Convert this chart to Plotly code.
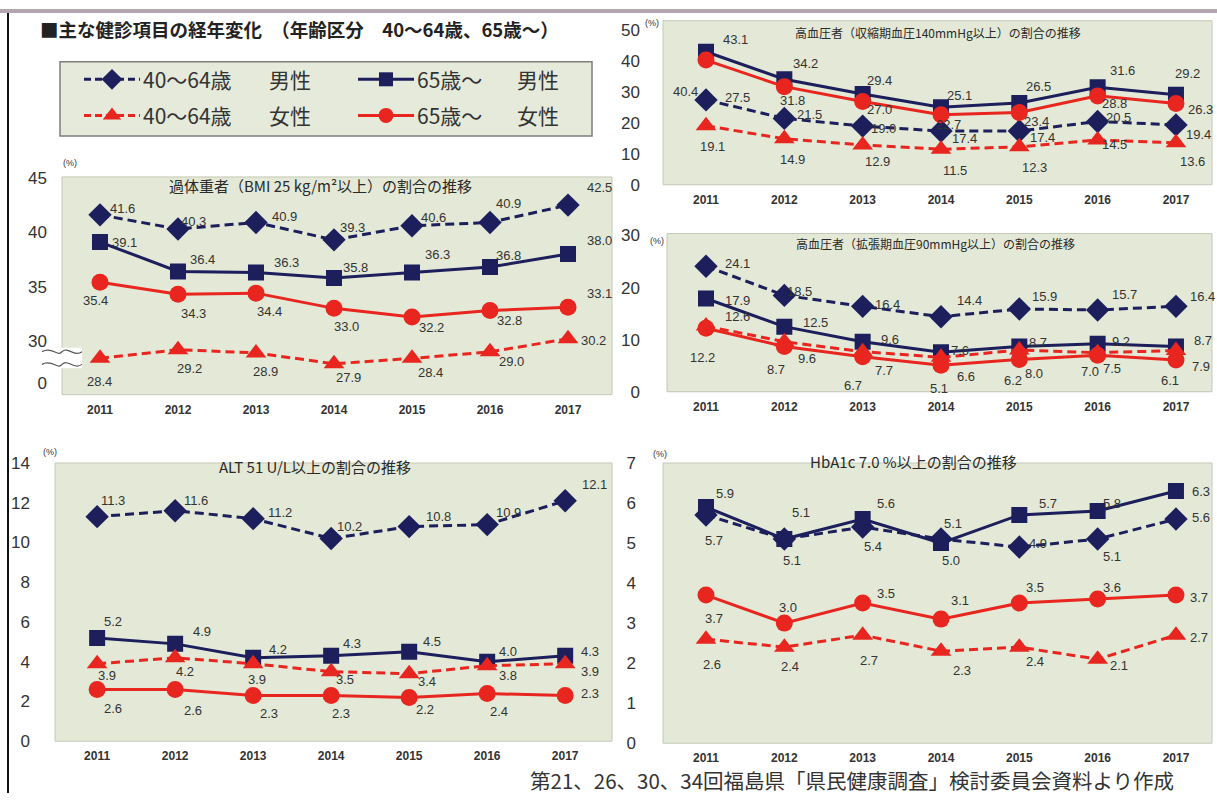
import plotly.graph_objects as go

W, H = 1217, 803

years = [2011, 2012, 2013, 2014, 2015, 2016, 2017]

# 高血圧者（収縮期血圧140mmHg以上）
sbp_m_4064 = [27.5, 21.5, 19.0, 17.4, 17.4, 20.5, 19.4]
sbp_m_65 = [43.1, 34.2, 29.4, 25.1, 26.5, 31.6, 29.2]
sbp_f_4064 = [19.1, 14.9, 12.9, 11.5, 12.3, 14.5, 13.6]
sbp_f_65 = [40.4, 31.8, 27.0, 22.7, 23.4, 28.8, 26.3]

# 高血圧者（拡張期血圧90mmHg以上）
dbp_m_4064 = [24.1, 18.5, 16.4, 14.4, 15.9, 15.7, 16.4]
dbp_m_65 = [17.9, 12.5, 9.6, 7.6, 8.7, 9.2, 8.7]
dbp_f_4064 = [12.6, 9.6, 7.7, 6.6, 8.0, 7.5, 7.9]
dbp_f_65 = [12.2, 8.7, 6.7, 5.1, 6.2, 7.0, 6.1]

# 過体重者（BMI 25以上）
bmi_m_4064 = [41.6, 40.3, 40.9, 39.3, 40.6, 40.9, 42.5]
bmi_m_65 = [39.1, 36.4, 36.3, 35.8, 36.3, 36.8, 38.0]
bmi_f_4064 = [28.4, 29.2, 28.9, 27.9, 28.4, 29.0, 30.2]
bmi_f_65 = [35.4, 34.3, 34.4, 33.0, 32.2, 32.8, 33.1]

# ALT 51 U/L以上
alt_m_4064 = [11.3, 11.6, 11.2, 10.2, 10.8, 10.9, 12.1]
alt_m_65 = [5.2, 4.9, 4.2, 4.3, 4.5, 4.0, 4.3]
alt_f_4064 = [3.9, 4.2, 3.9, 3.5, 3.4, 3.8, 3.9]
alt_f_65 = [2.6, 2.6, 2.3, 2.3, 2.2, 2.4, 2.3]

# HbA1c 7.0%以上
hba_m_4064 = [5.7, 5.1, 5.4, 5.1, 4.9, 5.1, 5.6]
hba_m_65 = [5.9, 5.1, 5.6, 5.0, 5.7, 5.8, 6.3]
hba_f_4064 = [2.6, 2.4, 2.7, 2.3, 2.4, 2.1, 2.7]
hba_f_65 = [3.7, 3.0, 3.5, 3.1, 3.5, 3.6, 3.7]

series_names = ["40〜64歳　男性", "65歳〜　男性", "40〜64歳　女性", "65歳〜　女性"]

NAVY = "#1c1f5c"
RED = "#e8261f"
GREEN_BG = "#e3e9d6"
TXT = "#333333"
FONT = "Liberation Sans, Arial, Noto Sans CJK JP"
JFONT = "Noto Sans CJK JP, Liberation Sans"

STYLE = {
    "m4064": dict(color=NAVY, dash="9px,5px", symbol="diamond", size=18),
    "m65": dict(color=NAVY, dash="solid", symbol="square", size=16),
    "f4064": dict(color=RED, dash="9px,5px", symbol="triangle-up", size=18),
    "f65": dict(color=RED, dash="solid", symbol="circle", size=17),
}
DRAW_ORDER = ["m4064", "m65", "f4064", "f65"]


def px_dom_x(l, r):
    return [l / W, r / W]


def px_dom_y(t, b):
    return [1 - b / H, 1 - t / H]


# panel geometry: plot box in pixels, axis ranges, y ticks
panels = [
    dict(key="bmi", box=(62, 172, 612, 395), xr=[2010.513, 2017.564], yr=[25.06, 45.09],
         tickvals=[26.14, 30, 35, 40, 45], ticktext=["0", "30", "35", "40", "45"], standoff=14,
         data=dict(m4064=bmi_m_4064, m65=bmi_m_65, f4064=bmi_f_4064, f65=bmi_f_65),
         title="過体重者（BMI 25 kg/m²以上）の割合の推移", title_pos=(320, 181), title_size=15,
         pct_pos=(70, 158),
         offs=dict(
             m4064=[(23, -6), (16, -8), (29, -6), (18, -12), (21, -8), (18, -19), (31, -18)],
             m65=[(25, 0), (25, -12), (31, -10), (21, -10), (25, -18), (18, -12), (31, -14)],
             f4064=[(0, 23), (12, 19), (10, 19), (14, 14), (18, 14), (21, 10), (25, 2)],
             f65=[(-4, 18), (16, 19), (14, 18), (12, 18), (19, 10), (19, 10), (31, -14)])),
    dict(key="sbp", box=(663, 12, 1212, 180), xr=[2010.451, 2017.46], yr=[0, 53.16],
         tickvals=[0, 10, 20, 30, 40, 50], ticktext=None, standoff=22,
         data=dict(m4064=sbp_m_4064, m65=sbp_m_65, f4064=sbp_f_4064, f65=sbp_f_65),
         title="高血圧者（収縮期血圧140mmHg以上）の割合の推移", title_pos=(938, 24), title_size=12,
         pct_pos=(652, 14),
         offs=dict(
             m4064=[(31, -2), (25, -4), (21, 2), (24, 7), (23, 6), (21, -4), (23, 10)],
             m65=[(29, -12), (21, -16), (17, -14), (19, -12), (19, -16), (25, -17), (12, -21)],
             f4064=[(6, 21), (8, 21), (15, 17), (14, 21), (15, 21), (17, 4), (17, 19)],
             f65=[(-21, 31), (8, 14), (17, 8), (8, 10), (17, 9), (17, 8), (25, 6)])),
    dict(key="dbp", box=(667, 230, 1212, 392), xr=[2010.502, 2017.46], yr=[0, 30.375],
         tickvals=[0, 10, 20, 30], ticktext=None, standoff=26,
         data=dict(m4064=dbp_m_4064, m65=dbp_m_65, f4064=dbp_f_4064, f65=dbp_f_65),
         title="高血圧者（拡張期血圧90mmHg以上）の割合の推移", title_pos=(935, 240), title_size=12,
         pct_pos=(657, 238),
         offs=dict(
             m4064=[(31, -3), (15, -4), (25, -2), (29, -16), (25, -12), (27, -15), (27, -10)],
             m65=[(31, 2), (31, -4), (27, -2), (19, -2), (19, -4), (23, -2), (27, -6)],
             f4064=[(31, -10), (23, 17), (21, 19), (25, 19), (15, 23), (14, 16), (25, 16)],
             f65=[(-4, 29), (-8, 23), (-10, 29), (-2, 23), (-6, 21), (-8, 16), (-6, 21)])),
    dict(key="alt", box=(55, 465, 612, 750), xr=[2010.46, 2017.60], yr=[0, 14],
         tickvals=[0, 2, 4, 6, 8, 10, 12, 14], ticktext=None, standoff=24,
         data=dict(m4064=alt_m_4064, m65=alt_m_65, f4064=alt_f_4064, f65=alt_f_65),
         title="ALT 51 U/L以上の割合の推移", title_pos=(315, 469), title_size=15,
         pct_pos=(50, 454),
         offs=dict(
             m4064=[(16, -16), (21, -10), (27, -6), (18, -12), (29, -10), (21, -12), (29, -16)],
             m65=[(16, -16), (27, -12), (25, -8), (21, -12), (23, -10), (21, -10), (25, -4)],
             f4064=[(10, 12), (10, 14), (4, 16), (14, 8), (18, 8), (21, 10), (25, 8)],
             f65=[(16, 19), (18, 21), (16, 18), (10, 18), (16, 12), (12, 18), (25, -2)])),
    dict(key="hba", box=(663, 465, 1212, 752), xr=[2010.451, 2017.46], yr=[0, 7],
         tickvals=[0, 1, 2, 3, 4, 5, 6, 7], ticktext=None, standoff=26,
         data=dict(m4064=hba_m_4064, m65=hba_m_65, f4064=hba_f_4064, f65=hba_f_65),
         title="HbA1c 7.0 %以上の割合の推移", title_pos=(913, 463), title_size=15,
         pct_pos=(660, 456),
         offs=dict(
             m4064=[(8, 25), (17, -27), (10, 19), (12, -16), (19, -4), (14, 17), (25, -2)],
             m65=[(19, -14), (8, 21), (23, -16), (10, 17), (29, -12), (14, -8), (25, 0)],
             f4064=[(6, 25), (6, 19), (6, 25), (21, 19), (16, 14), (21, 6), (23, 2)],
             f65=[(8, 23), (4, -16), (23, -10), (19, -19), (16, -16), (14, -12), (23, 2)])),
]

fig = go.Figure()
annotations = []
shapes = []
layout = {}

for i, p in enumerate(panels, start=1):
    xa = "x" if i == 1 else f"x{i}"
    ya = "y" if i == 1 else f"y{i}"
    xkey = "xaxis" if i == 1 else f"xaxis{i}"
    ykey = "yaxis" if i == 1 else f"yaxis{i}"
    l, t, r, b = p["box"]
    layout[xkey] = dict(domain=px_dom_x(l, r), range=p["xr"], anchor=ya,
                        tickvals=years, ticktext=[str(y) for y in years],
                        tickfont=dict(size=12, color=TXT, family=FONT, weight="bold"),
                        ticks="", showgrid=False, zeroline=False, showline=False,
                        ticklabelstandoff=6, fixedrange=True)
    yax = dict(domain=px_dom_y(t, b), range=p["yr"], anchor=xa,
               tickvals=p["tickvals"], tickfont=dict(size=17, color=TXT, family=FONT),
               ticks="", showgrid=False, zeroline=False, showline=False,
               ticklabelstandoff=p["standoff"], fixedrange=True)
    if p["ticktext"]:
        yax["ticktext"] = p["ticktext"]
    layout[ykey] = yax

    shapes.append(dict(type="rect", xref=f"{xa} domain", yref=f"{ya} domain",
                       x0=0, x1=1, y0=0, y1=1, fillcolor=GREEN_BG,
                       line=dict(color="#c3c9b6", width=1), layer="below"))

    for k in DRAW_ORDER:
        st = STYLE[k]
        vals = p["data"][k]
        fig.add_trace(go.Scatter(
            x=years, y=vals, xaxis=xa, yaxis=ya, mode="lines+markers",
            name=series_names[DRAW_ORDER.index(k)], showlegend=False, hoverinfo="skip",
            line=dict(color=st["color"], width=3, dash=st["dash"]),
            marker=dict(symbol=st["symbol"], size=st["size"], color=st["color"],
                        line=dict(width=0))))
        for yr_, v, (dx, dy) in zip(years, vals, p["offs"][k]):
            annotations.append(dict(x=yr_, y=v, xref=xa, yref=ya, text=f"{v:.1f}",
                                    showarrow=False, xshift=dx, yshift=-dy,
                                    font=dict(size=13, color=TXT, family=FONT)))

    tx, ty = p["title_pos"]
    annotations.append(dict(x=tx / W, y=1 - ty / H, xref="paper", yref="paper",
                            text=p["title"], showarrow=False, xanchor="center", yanchor="middle",
                            font=dict(size=p["title_size"], color="#2a2a2a", family=JFONT)))
    px_, py_ = p["pct_pos"]
    annotations.append(dict(x=px_ / W, y=1 - py_ / H, xref="paper", yref="paper",
                            text="(%)", showarrow=False, xanchor="center", yanchor="middle",
                            font=dict(size=9, color=TXT, family=FONT)))


def P(x, y):
    return f"{x / W:.5f},{1 - y / H:.5f}"


# axis break mark on the BMI panel
shapes.append(dict(type="rect", xref="paper", yref="paper",
                   x0=42 / W, x1=82 / W, y0=1 - 368 / H, y1=1 - 347 / H,
                   fillcolor="white", line=dict(width=0), layer="above"))
for yy in (351, 364):
    path = ("M " + P(42, yy) + " C " + P(52, yy - 6) + " " + P(58, yy + 6) + " " + P(62, yy)
            + " C " + P(68, yy - 6) + " " + P(74, yy + 6) + " " + P(82, yy))
    shapes.append(dict(type="path", xref="paper", yref="paper", path=path,
                       line=dict(color="#555555", width=1.2), layer="above"))

# page frame
shapes.append(dict(type="rect", xref="paper", yref="paper", x0=0, x1=1,
                   y0=1 - 4 / H, y1=1, fillcolor="#b3a6ae", line=dict(width=0), layer="above"))
shapes.append(dict(type="line", xref="paper", yref="paper", x0=8 / W, x1=8 / W,
                   y0=0, y1=1 - 4 / H, line=dict(color="#111111", width=2), layer="above"))

# legend box
LX0, LY0, LX1, LY1 = 60, 54, 592, 130
shapes.append(dict(type="rect", xref="paper", yref="paper",
                   x0=LX0 / W, x1=LX1 / W, y0=1 - LY1 / H, y1=1 - LY0 / H,
                   fillcolor="#e6eadb", line=dict(color="#7d7d7d", width=1.5), layer="below"))

# legend glyphs drawn on a pixel-space overlay axis
legend_rows = [
    ("m4064", 84, 72, "40〜64歳", "男性"),
    ("m65", 358, 72, "65歳〜", "男性"),
    ("f4064", 84, 109, "40〜64歳", "女性"),
    ("f65", 358, 109, "65歳〜", "女性"),
]
layout["xaxis6"] = dict(domain=[0, 1], range=[0, W], visible=False, fixedrange=True, anchor="y6")
layout["yaxis6"] = dict(domain=[0, 1], range=[H, 0], visible=False, fixedrange=True, anchor="x6")
for k, gx, gy, lab1, lab2 in legend_rows:
    st = STYLE[k]
    fig.add_trace(go.Scatter(
        x=[gx, gx + 28, gx + 56], y=[gy, gy, gy], xaxis="x6", yaxis="y6",
        mode="lines", showlegend=False, hoverinfo="skip",
        line=dict(color=st["color"], width=3, dash=st["dash"] if st["dash"] == "solid" else "7px,4px")))
    fig.add_trace(go.Scatter(
        x=[gx + 28], y=[gy], xaxis="x6", yaxis="y6", mode="markers", showlegend=False,
        hoverinfo="skip",
        marker=dict(symbol=st["symbol"], size=st["size"] - 2, color=st["color"])))
    annotations.append(dict(x=gx + 57, y=gy, xref="x6", yref="y6", text=lab1, showarrow=False,
                            xanchor="left", yanchor="middle",
                            font=dict(size=21, color=TXT, family=JFONT)))
    annotations.append(dict(x=gx + (183 if "64" in lab1 else 157), y=gy, xref="x6", yref="y6",
                            text=lab2, showarrow=False, xanchor="left", yanchor="middle",
                            font=dict(size=21, color=TXT, family=JFONT)))

# page heading and source note
annotations.append(dict(x=38 / W, y=1 - 20 / H, xref="paper", yref="paper",
                        text="■主な健診項目の経年変化　（年齢区分　40〜64歳、65歳〜）",
                        showarrow=False, xanchor="left", yanchor="middle",
                        font=dict(size=18.5, color="#222222", family=JFONT, weight="bold")))
annotations.append(dict(x=528 / W, y=1 - 790 / H, xref="paper", yref="paper",
                        text="第21、26、30、34回福島県「県民健康調査」検討委員会資料より作成",
                        showarrow=False, xanchor="left", yanchor="middle",
                        font=dict(size=20.5, color="#333333", family=JFONT)))

fig.update_layout(
    width=W, height=H, margin=dict(l=0, r=0, t=0, b=0),
    paper_bgcolor="white", plot_bgcolor="rgba(0,0,0,0)",
    showlegend=False, annotations=annotations, shapes=shapes,
    font=dict(family=FONT, color=TXT),
    **layout,
)

fig.write_html("out.html", config={"displayModeBar": False})
